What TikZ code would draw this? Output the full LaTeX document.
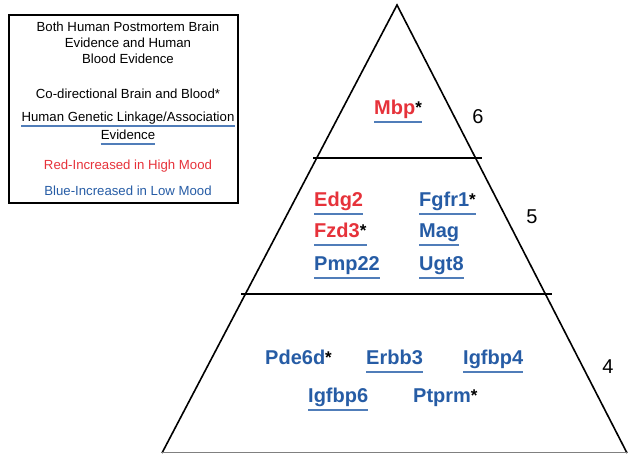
\documentclass[tikz,border=0pt]{standalone}
\usepackage{fontspec}
\setmainfont{Liberation Sans}
\usetikzlibrary{calc}
\definecolor{gred}{RGB}{230,50,58}
\definecolor{gblue}{RGB}{38,92,165}
\definecolor{uline}{RGB}{80,125,185}
\newcommand{\myast}{{\color{black}\fontsize{17}{17}\selectfont\bfseries\raisebox{1pt}{*}}}
\begin{document}
\begin{tikzpicture}[x=1pt,y=-1pt,
  gene/.style={anchor=base west,inner sep=0pt,font=\fontsize{20}{20}\selectfont\bfseries},
  legtext/.style={anchor=base,inner sep=0pt,font=\fontsize{13.2}{15}\selectfont},
  num/.style={inner sep=0pt,font=\fontsize{20}{20}\selectfont},
  ul/.style={uline,line width=1.3pt},
  edge/.style={line width=1.6pt,black}]
\useasboundingbox (0,0) rectangle (630,454);
% legend
\node[draw,line width=2pt,minimum width=229pt,minimum height=188pt,anchor=north west,inner sep=0pt] (legend) at (8,14) {};
\node[legtext] (l1) at (128,32) {Both Human Postmortem Brain};
\node[legtext] (l2) at (128,48) {Evidence and Human};
\node[legtext] (l3) at (128,64) {Blood Evidence};
\node[legtext] (l4) at (128,99) {Co-directional Brain and Blood*};
\node[legtext] (l5) at (128,122) {Human Genetic Linkage/Association};
\node[legtext] (l6) at (128,140) {Evidence};
\node[legtext,text=gred] (l7) at (128,170) {Red-Increased in High Mood};
\node[legtext,text=gblue] (l8) at (128,196) {Blue-Increased in Low Mood};
\draw[ul] ($(l5.base west)+(0,4)$) -- ($(l5.base east)+(0,4)$);
\draw[ul] ($(l6.base west)+(0,4)$) -- ($(l6.base east)+(0,4)$);
% pyramid
\coordinate (apex) at (397,5);
\coordinate (bl) at (162,453);
\coordinate (br) at (627,453);
\draw[edge,line join=miter] (bl) -- (apex) -- (br);
\draw[gray,line width=1pt] (bl) -- (br);
\coordinate (t1l) at (313,158);
\coordinate (t1r) at (482,158);
\coordinate (t2l) at (241,294);
\coordinate (t2r) at (552,294);
\draw[edge] (t1l) -- (t1r);
\draw[edge] (t2l) -- (t2r);
% numbers
\node[num] (n6) at (478,117) {6};
\node[num] (n5) at (532,217) {5};
\node[num] (n4) at (608,367) {4};
% genes
\node[gene,text=gred] (mbp) at (374,115) {Mbp\myast};
\node[gene,text=gred] (edg) at (314,207) {Edg2};
\node[gene,text=gblue] (fgf) at (419,207) {Fgfr1\myast};
\node[gene,text=gred] (fzd) at (314,238) {Fzd3\myast};
\node[gene,text=gblue] (mag) at (419,238) {Mag};
\node[gene,text=gblue] (pmp) at (314,271) {Pmp22};
\node[gene,text=gblue] (ugt) at (419,271) {Ugt8};
\node[gene,text=gblue] (pde) at (265,365) {Pde6d\myast};
\node[gene,text=gblue] (erb) at (366,365) {Erbb3};
\node[gene,text=gblue] (ig4) at (463,365) {Igfbp4};
\node[gene,text=gblue] (ig6) at (308,403) {Igfbp6};
\node[gene,text=gblue] (ptp) at (413,403) {Ptprm\myast};
\foreach \g in {mbp,edg,fgf,fzd,mag,pmp,ugt,erb,ig4,ig6}{
  \draw[ul] ($(\g.base west)+(0,7)$) -- ($(\g.base east)+(0,7)$);
}
\end{tikzpicture}
\end{document}
